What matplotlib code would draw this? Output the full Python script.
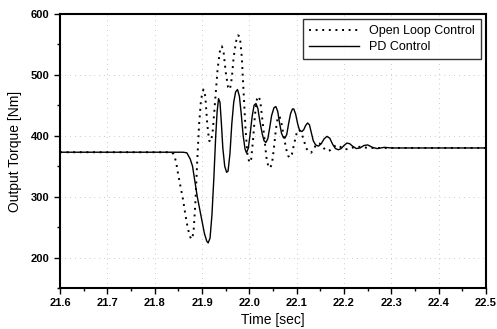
import matplotlib
matplotlib.use("Agg")
import matplotlib.pyplot as plt
from matplotlib.ticker import MultipleLocator

# PD control (solid)
pd_t = [21.60, 21.86, 21.868, 21.875, 21.88, 21.885, 21.89, 21.895, 21.90, 21.905,
        21.91, 21.913, 21.917, 21.921, 21.925, 21.929, 21.932, 21.935, 21.938, 21.941,
        21.944, 21.948, 21.952, 21.955, 21.959, 21.963, 21.967, 21.971, 21.975, 21.979,
        21.983, 21.987, 21.991, 21.994, 21.998, 22.002, 22.006, 22.010, 22.014, 22.018,
        22.022, 22.027, 22.031, 22.035, 22.039, 22.043, 22.047, 22.052, 22.056, 22.060,
        22.064, 22.068, 22.072, 22.075, 22.079, 22.083, 22.087, 22.091, 22.094, 22.098,
        22.102, 22.106, 22.111, 22.115, 22.119, 22.123, 22.127, 22.131, 22.135, 22.140,
        22.146, 22.152, 22.158, 22.164, 22.170, 22.176, 22.182, 22.188, 22.194, 22.200,
        22.206, 22.212, 22.218, 22.226, 22.234, 22.242, 22.250, 22.260, 22.270, 22.285,
        22.30, 22.50]
pd_y = [373, 373, 372, 362, 350, 325, 300, 280, 260, 240,
        227, 224, 232, 270, 330, 400, 440, 461, 455, 420,
        380, 350, 340, 342, 370, 420, 455, 472, 476, 465,
        435, 400, 378, 372, 380, 405, 432, 450, 453, 445,
        425, 404, 392, 389, 395, 413, 433, 446, 448, 440,
        420, 404, 397, 396, 402, 420, 436, 444, 444, 435,
        420, 409, 407, 410, 417, 421, 418, 405, 392, 385,
        383, 387, 395, 399, 396, 386, 379, 377, 379, 384,
        388, 387, 383, 379, 380, 384, 385, 381, 379, 381,
        380, 380]

# open loop control (dotted)
ol_t = [21.60, 21.835, 21.84, 21.845, 21.85, 21.855, 21.86, 21.865, 21.87, 21.875,
        21.878, 21.882, 21.886, 21.890, 21.894, 21.898, 21.903, 21.907, 21.911, 21.915,
        21.919, 21.923, 21.928, 21.933, 21.938, 21.942, 21.946, 21.950, 21.955, 21.959,
        21.963, 21.967, 21.972, 21.976, 21.980, 21.984, 21.988, 21.992, 21.996, 22.000,
        22.004, 22.008, 22.012, 22.016, 22.019, 22.023, 22.027, 22.032, 22.036, 22.040,
        22.044, 22.048, 22.052, 22.056, 22.060, 22.064, 22.068, 22.073, 22.078, 22.082,
        22.086, 22.090, 22.095, 22.100, 22.105, 22.110, 22.115, 22.120, 22.125, 22.130,
        22.135, 22.140, 22.146, 22.152, 22.158, 22.164, 22.170, 22.178, 22.185, 22.192,
        22.200, 22.210, 22.220, 22.235, 22.25, 22.50]
ol_y = [373, 373, 370, 358, 335, 315, 295, 270, 248, 234,
        230, 240, 290, 360, 420, 460, 476, 465, 420, 392,
        390, 410, 460, 510, 540, 547, 535, 505, 480, 476,
        495, 530, 555, 565, 563, 530, 470, 410, 370, 356,
        362, 395, 435, 460, 465, 458, 430, 395, 365, 350,
        347, 355, 380, 410, 430, 432, 420, 398, 378, 367,
        364, 370, 388, 404, 410, 405, 393, 380, 374, 372,
        376, 384, 388, 386, 379, 375, 376, 382, 385, 382,
        378, 378, 381, 382, 380, 380]

plt.rcParams['font.family'] = ['Liberation Sans', 'DejaVu Sans']

fig = plt.figure(figsize=(4.97, 3.29), dpi=100)
ax = fig.add_axes([60 / 497, 1 - 288 / 329, 426 / 497, 274 / 329])

ax.plot(ol_t, ol_y, color='black', lw=1.4, linestyle=(0, (1, 2.4)), label='Open Loop Control')
ax.plot(pd_t, pd_y, color='black', lw=1.0, label='PD Control')

ax.set_xlim(21.6, 22.5)
ax.set_ylim(150, 600)
ax.xaxis.set_minor_locator(MultipleLocator(0.05))
ax.yaxis.set_minor_locator(MultipleLocator(50))
ax.set_xticks([21.6, 21.7, 21.8, 21.9, 22.0, 22.1, 22.2, 22.3, 22.4, 22.5])
ax.set_xticklabels(['21.6', '21.7', '21.8', '21.9', '22.0', '22.1', '22.2', '22.3', '22.4', '22.5'])
ax.set_yticks([200, 300, 400, 500, 600])

ax.grid(True, which='major', color='#999999', linestyle=(0, (1, 6)), lw=0.5)
ax.tick_params(which='major', direction='out', length=4, width=1, labelsize=8)
ax.tick_params(which='minor', direction='out', length=2, width=1)
for lab in ax.get_xticklabels() + ax.get_yticklabels():
    lab.set_fontweight('bold')
for s in ax.spines.values():
    s.set_linewidth(1.5)

ax.set_xlabel('Time [sec]', fontsize=10, labelpad=3)
ax.set_ylabel('Output Torque [Nm]', fontsize=10, labelpad=6)

leg = ax.legend(loc='upper right', fontsize=9, frameon=True, fancybox=False,
                edgecolor='black', borderaxespad=0.4, handlelength=4.0,
                borderpad=0.5, labelspacing=0.3)
leg.get_frame().set_linewidth(1.0)

fig.savefig('out.png', dpi=100)
